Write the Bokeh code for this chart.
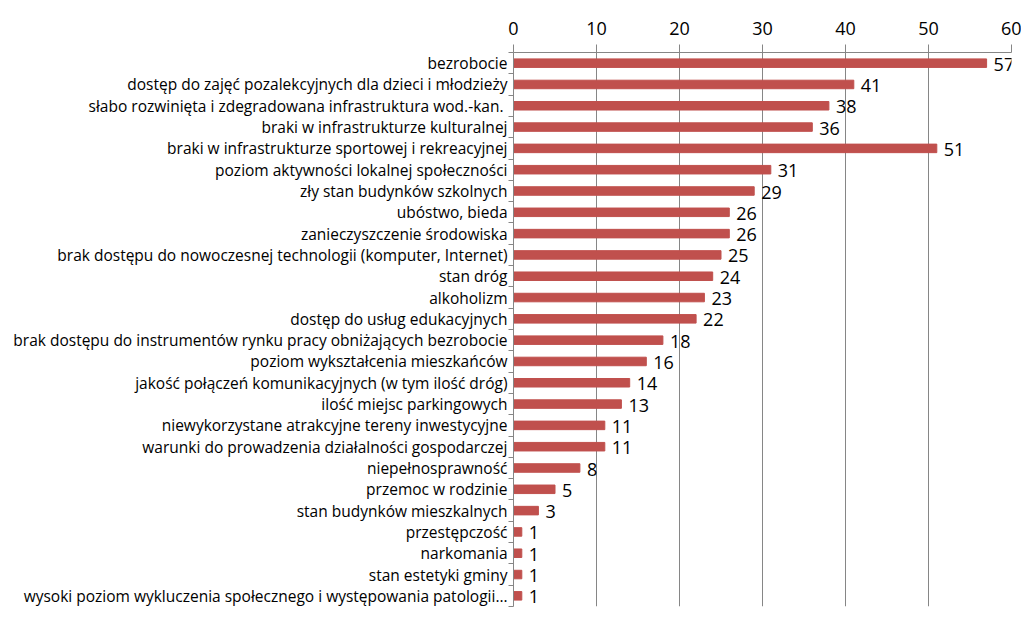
from bokeh.plotting import figure
from bokeh.models import Range1d, FixedTicker, ColumnDataSource, LabelSet
from bokeh.core.properties import value
from bokeh.embed import file_html
from bokeh.resources import INLINE

categories = [
    "bezrobocie",
    "dostęp do zajęć pozalekcyjnych dla dzieci i młodzieży",
    "słabo rozwinięta i  zdegradowana infrastruktura wod.-kan.",
    "braki w infrastrukturze kulturalnej",
    "braki w infrastrukturze sportowej i rekreacyjnej",
    "poziom aktywności lokalnej społeczności",
    "zły stan budynków szkolnych",
    "ubóstwo, bieda",
    "zanieczyszczenie środowiska",
    "brak dostępu do nowoczesnej technologii (komputer, Internet)",
    "stan dróg",
    "alkoholizm",
    "dostęp do usług edukacyjnych",
    "brak dostępu do instrumentów rynku pracy obniżających bezrobocie",
    "poziom wykształcenia mieszkańców",
    "jakość połączeń komunikacyjnych (w tym ilość dróg)",
    "ilość miejsc parkingowych",
    "niewykorzystane atrakcyjne tereny inwestycyjne",
    "warunki do prowadzenia działalności gospodarczej",
    "niepełnosprawność",
    "przemoc w rodzinie",
    "stan budynków mieszkalnych",
    "przestępczość",
    "narkomania",
    "stan estetyki gminy",
    "wysoki poziom wykluczenia społecznego i występowania patologii…",
]
values = [57, 41, 38, 36, 51, 31, 29, 26, 26, 25, 24, 23, 22, 18, 16, 14, 13, 11, 11, 8, 5, 3, 1, 1, 1, 1]
x_ticks = [0, 10, 20, 30, 40, 50, 60]

n = len(categories)
centers = [i + 0.5 for i in range(n)]
src = ColumnDataSource(dict(y=centers, v=values, lab=[str(v) for v in values]))

FONT = "Open Sans"
GRAY = "#868686"

p = figure(width=1021, height=613, output_backend="svg", toolbar_location=None,
           x_range=Range1d(0, 60), y_range=Range1d(n, 0),
           x_axis_location="above",
           min_border_left=513, min_border_right=10, min_border_top=52, min_border_bottom=7)
p.outline_line_color = None
p.background_fill_color = "white"
p.border_fill_color = "white"

p.hbar(y="y", right="v", left=0, height=0.4, source=src, color="#C0504D")
labels = LabelSet(x="v", y="y", text="lab", source=src, x_offset=7, y_offset=-1,
                  text_baseline="middle", text_align="left",
                  text_font=value(FONT), text_font_size=value("18px"),
                  text_color=value("black"))
p.add_layout(labels)

# x axis (top)
xa = p.xaxis[0]
xa.ticker = FixedTicker(ticks=x_ticks, minor_ticks=[])
xa.axis_line_color = GRAY
xa.major_tick_line_color = GRAY
xa.major_tick_out = 8
xa.major_tick_in = 0
xa.minor_tick_line_color = None
xa.major_label_standoff = 10
xa.major_label_text_font = FONT
xa.major_label_text_font_size = "18px"
xa.major_label_text_color = "black"

# y axis (left)
ya = p.yaxis[0]
ya.ticker = FixedTicker(ticks=centers, minor_ticks=list(range(n + 1)))
ya.major_label_overrides = {c: lab for c, lab in zip(centers, categories)}
ya.axis_line_color = GRAY
ya.major_tick_line_color = None
ya.major_tick_out = 0
ya.major_tick_in = 0
ya.minor_tick_line_color = GRAY
ya.minor_tick_out = 5
ya.minor_tick_in = 0
ya.major_label_standoff = 1
ya.major_label_text_font = FONT
ya.major_label_text_font_size = "15.5px"
ya.major_label_text_color = "black"

p.xgrid.ticker = FixedTicker(ticks=x_ticks)
p.xgrid.grid_line_color = GRAY
p.ygrid.grid_line_color = None

open("out.html", "w").write(file_html(p, INLINE))
